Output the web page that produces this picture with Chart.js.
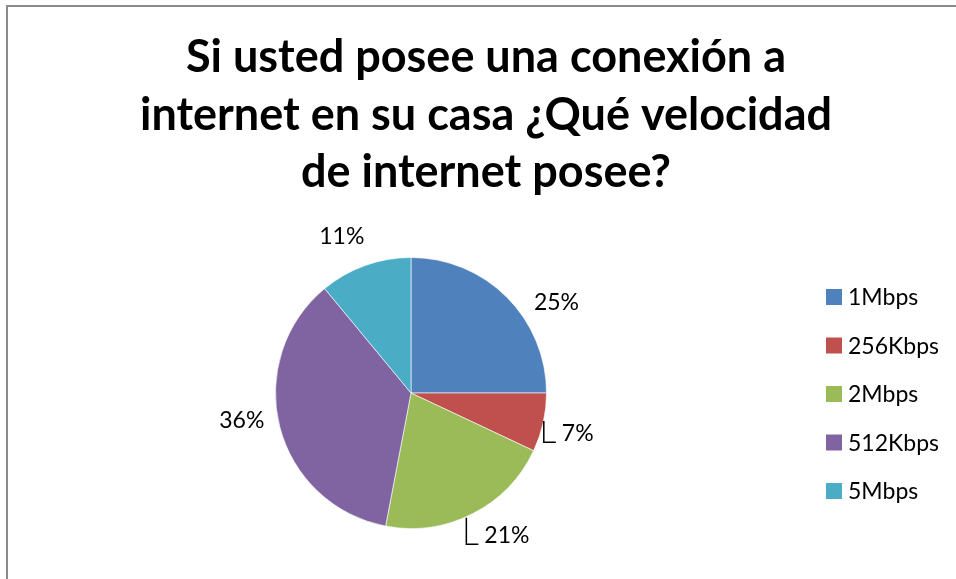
<!DOCTYPE html>
<html>
<head>
<meta charset="utf-8">
<script src="https://cdn.jsdelivr.net/npm/chart.js@4.4.1/dist/chart.umd.min.js"></script>
<style>
  html, body { margin: 0; padding: 0; background: #fff; }
  #wrap { width: 956px; height: 579px; position: relative; }
</style>
</head>
<body>
<div id="wrap"><canvas id="c" width="956" height="579"></canvas></div>
<script>
// Survey answers: home internet speed
const titleLines = ['Si usted posee una conexión a', 'internet en su casa ¿Qué velocidad', 'de internet posee?'];
const categories = ['1Mbps', '256Kbps', '2Mbps', '512Kbps', '5Mbps'];
const percentages = [25, 7, 21, 36, 11];
const sliceColors = ['#4F81BD', '#C0504D', '#9BBB59', '#8064A2', '#4BACC6'];

// label placement tweaks (degrees away from slice middle) and which labels get a leader line
const labelAngleShift = [13, 1, -7, 5, -4];
const labelLeader = [false, true, true, false, false];

const FONT = 'Lato, "Open Sans", sans-serif';

const framePlugin = {
  id: 'frame',
  beforeDraw(chart) {
    const ctx = chart.ctx;
    ctx.save();
    ctx.fillStyle = '#fff';
    ctx.fillRect(0, 0, chart.width, chart.height);
    ctx.strokeStyle = '#8a8a8a';
    ctx.lineWidth = 2;
    ctx.beginPath();
    ctx.moveTo(7, chart.height + 5);
    ctx.lineTo(7, 6);
    ctx.lineTo(chart.width + 5, 6);
    ctx.stroke();
    ctx.restore();
  }
};

const titlePlugin = {
  id: 'titleText',
  afterDraw(chart) {
    const ctx = chart.ctx;
    ctx.save();
    ctx.fillStyle = '#000';
    ctx.font = 'bold 45px ' + FONT;
    ctx.textAlign = 'center';
    ctx.textBaseline = 'alphabetic';
    titleLines.forEach((t, i) => ctx.fillText(t, 486, 72 + i * 57.5));
    ctx.restore();
  }
};

const labelPlugin = {
  id: 'sliceLabels',
  afterDatasetsDraw(chart) {
    const ctx = chart.ctx;
    const meta = chart.getDatasetMeta(0);
    ctx.save();
    ctx.font = '23px ' + FONT;
    ctx.fillStyle = '#000';
    ctx.textAlign = 'center';
    ctx.textBaseline = 'middle';
    meta.data.forEach((arc, i) => {
      const p = arc.getProps(['x', 'y', 'startAngle', 'endAngle', 'outerRadius'], true);
      const mid = (p.startAngle + p.endAngle) / 2 + labelAngleShift[i] * Math.PI / 180;
      const dist = p.outerRadius + 36;
      const lx = p.x + Math.cos(mid) * dist;
      const ly = p.y + Math.sin(mid) * dist;
      const text = percentages[i] + '%';
      ctx.fillText(text, lx, ly);
      if (labelLeader[i]) {
        const w = ctx.measureText(text).width;
        const cx = lx - w / 2 - 18;
        const cy = ly + 9;
        const dx = cx - p.x;
        const edgeY = p.y + Math.sqrt(Math.max(p.outerRadius * p.outerRadius - dx * dx, 0));
        ctx.strokeStyle = '#000';
        ctx.lineWidth = 1.5;
        ctx.beginPath();
        ctx.moveTo(cx, edgeY + 1);
        ctx.lineTo(cx, cy);
        ctx.lineTo(cx + 12, cy);
        ctx.stroke();
      }
    });
    ctx.restore();
  }
};

const legendPlugin = {
  id: 'sideLegend',
  afterDraw(chart) {
    const ctx = chart.ctx;
    ctx.save();
    ctx.font = '23px ' + FONT;
    ctx.textAlign = 'left';
    ctx.textBaseline = 'middle';
    categories.forEach((name, i) => {
      const y = 297 + i * 48.5;
      ctx.fillStyle = sliceColors[i];
      ctx.fillRect(826, y - 8, 16, 16);
      ctx.fillStyle = '#000';
      ctx.fillText(name, 848, y + 1);
    });
    ctx.restore();
  }
};

new Chart(document.getElementById('c'), {
  type: 'pie',
  data: {
    labels: categories,
    datasets: [{
      data: percentages,
      backgroundColor: sliceColors,
      borderColor: 'rgba(255,255,255,0.6)',
      borderWidth: 1
    }]
  },
  options: {
    responsive: false,
    animation: false,
    events: [],
    layout: { padding: { left: 275, top: 257, right: 409, bottom: 50 } },
    plugins: {
      legend: { display: false },
      title: { display: false },
      tooltip: { enabled: false }
    }
  },
  plugins: [framePlugin, titlePlugin, labelPlugin, legendPlugin]
});
</script>
</body>
</html>
